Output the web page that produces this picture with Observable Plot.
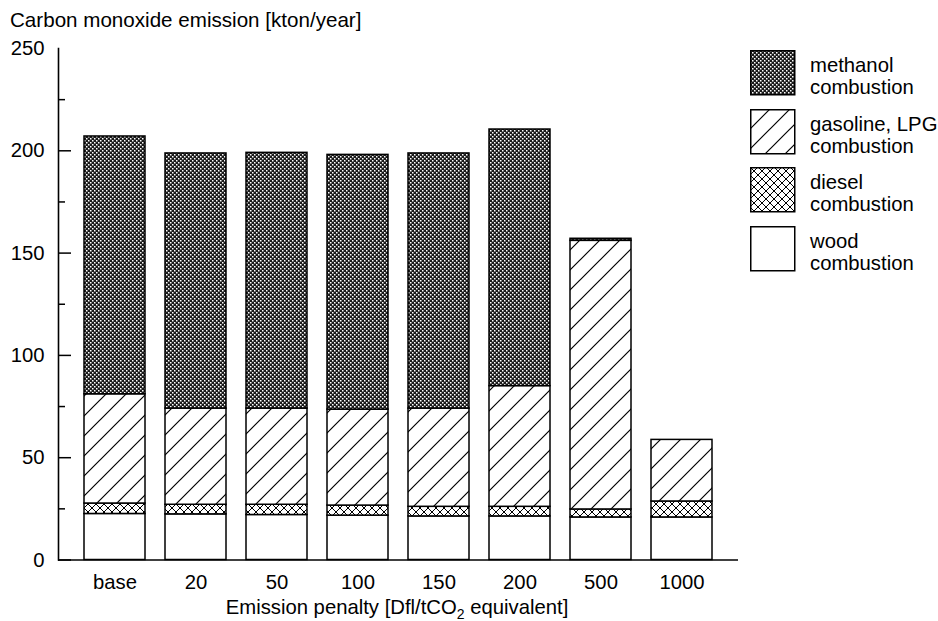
<!DOCTYPE html>
<html>
<head>
<meta charset="utf-8">
<script src="https://cdn.jsdelivr.net/npm/d3@7"></script>
<script src="https://cdn.jsdelivr.net/npm/@observablehq/plot@0.6"></script>
<style>
  html, body { margin: 0; padding: 0; background: #fff; overflow: hidden; }
  #wrap { position: relative; width: 938px; height: 621px; font-family: "Liberation Sans", Arial, sans-serif; color: #000; }
  #chart { position: absolute; left: 0; top: 0; }
  .title { position: absolute; left: 10px; top: 9.5px; font-size: 20.6px; line-height: 1; white-space: nowrap; }
  .xlabel { position: absolute; left: 397px; top: 597px; transform: translateX(-50%); font-size: 20.3px; line-height: 1; white-space: nowrap; }
  .xlabel .sub { position: relative; top: 5px; font-size: 14px; }
  #legend { position: absolute; left: 750px; top: 50px; }
  .item { position: relative; height: 44px; margin-bottom: 14.5px; }
  .item svg { position: absolute; left: 0; top: 0; }
  .item .lab { position: absolute; left: 60px; top: 4px; font-size: 20.3px; line-height: 22px; white-space: nowrap; }
</style>
</head>
<body>
<svg width="0" height="0" style="position:absolute">
  <defs>
    <pattern id="pMeth" patternUnits="userSpaceOnUse" width="4" height="4">
      <rect width="4" height="4" fill="#1a1a1a"/>
      <rect x="0" y="0" width="1.5" height="1.5" fill="#fff"/>
      <rect x="2" y="2" width="1.5" height="1.5" fill="#fff"/>
    </pattern>
    <pattern id="pGas" patternUnits="userSpaceOnUse" width="20" height="20">
      <rect width="20" height="20" fill="#fff"/>
      <path d="M-5,5 L5,-5 M0,20 L20,0 M15,25 L25,15" stroke="#000" stroke-width="1.2"/>
    </pattern>
    <pattern id="pDie" patternUnits="userSpaceOnUse" width="8" height="8">
      <rect width="8" height="8" fill="#fff"/>
      <path d="M-2,-2 L10,10 M-2,10 L10,-2 M-2,6 L2,10 M6,-2 L10,2 M-2,2 L2,-2 M6,10 L10,6" stroke="#000" stroke-width="1"/>
    </pattern>
    <pattern id="pWood" patternUnits="userSpaceOnUse" width="4" height="4">
      <rect width="4" height="4" fill="#fff"/>
    </pattern>
  </defs>
</svg>
<div id="wrap">
  <div id="chart"></div>
  <div class="title">Carbon monoxide emission [kton/year]</div>
  <div class="xlabel">Emission penalty [Dfl/tCO<span class="sub">2</span> equivalent]</div>
  <div id="legend"></div>
</div>
<script>
// ---- data ----
const categories = ["base", "20", "50", "100", "150", "200", "500", "1000"];
const wood      = [22.5, 22.3, 22, 21.7, 21.3, 21.3, 20.8, 20.8];
const diesel    = [5.1, 4.7, 5, 4.9, 4.7, 4.7, 3.9, 7.8];
const gasoline  = [53.4, 47, 47, 46.9, 48, 59, 131.3, 30.1];
const methanol  = [126, 124.7, 125, 124.5, 124.7, 125.4, 1, 0];
const seriesNames = ["wood", "diesel", "gasoline", "methanol"];
const legendLabels = [
  ["methanol", "combustion"],
  ["gasoline, LPG", "combustion"],
  ["diesel", "combustion"],
  ["wood", "combustion"]
];
const legendOrder = ["methanol", "gasoline", "diesel", "wood"];
const yTickLabels = [0, 50, 100, 150, 200, 250];
const yMajorTicks = [0, 50, 100, 150, 200];
const yMinorTicks = [25, 75, 125, 175, 225];

const fills = {
  wood: "url(#pWood)",
  diesel: "url(#pDie)",
  gasoline: "url(#pGas)",
  methanol: "url(#pMeth)"
};

const seriesValues = { wood, diesel, gasoline, methanol };
const rows = [];
categories.forEach((c, i) => {
  seriesNames.forEach(s => rows.push({ cat: c, series: s, value: seriesValues[s][i] }));
});

const chart = Plot.plot({
  width: 938,
  height: 621,
  marginLeft: 58,
  marginRight: 200,
  marginTop: 48,
  marginBottom: 61.5,
  style: { fontFamily: "'Liberation Sans', Arial, sans-serif", fontSize: "20.3px", color: "#000", background: "#fff" },
  x: { domain: categories, paddingInner: 0.245, paddingOuter: 0.27, label: null },
  y: { domain: [0, 250], label: null },
  color: { domain: seriesNames, range: seriesNames.map(s => fills[s]) },
  marks: [
    Plot.barY(rows, { x: "cat", y: "value", fill: "series", stroke: "#000", strokeWidth: 1.5 }),
    Plot.frame({ anchor: "left", strokeWidth: 1.6 }),
    Plot.ruleY([0], { strokeWidth: 1.6 }),
    Plot.axisX({ tickSize: 0, tickPadding: 15, label: null }),
    Plot.axisY(yTickLabels, { tickSize: 0, tickPadding: 14, label: null }),
    Plot.axisY(yMajorTicks, { tickSize: -13, fill: "none", strokeWidth: 1.5, label: null }),
    Plot.axisY(yMinorTicks, { tickSize: -7, fill: "none", strokeWidth: 1.5, label: null })
  ]
});
document.getElementById("chart").appendChild(chart);

// legend
const legend = document.getElementById("legend");
legendOrder.forEach((s, i) => {
  const item = document.createElement("div");
  item.className = "item";
  item.innerHTML = `<svg width="46" height="46"><rect x="0.75" y="0.75" width="44" height="44" fill="${fills[s]}" stroke="#000" stroke-width="1.5"/></svg>` +
    `<div class="lab">${legendLabels[i][0]}<br>${legendLabels[i][1]}</div>`;
  legend.appendChild(item);
});
</script>
</body>
</html>
